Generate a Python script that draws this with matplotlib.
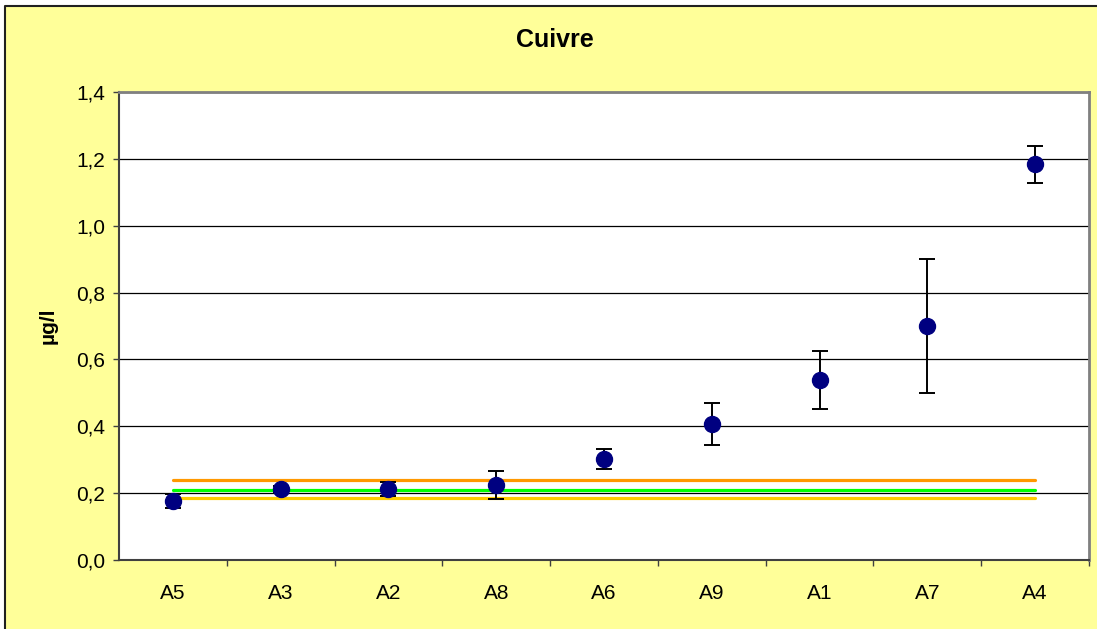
import matplotlib.pyplot as plt
from matplotlib.patches import Rectangle
from matplotlib.lines import Line2D
import numpy as np

plt.rcParams['font.family'] = ['Liberation Sans', 'DejaVu Sans']

sites = ['A5', 'A3', 'A2', 'A8', 'A6', 'A9', 'A1', 'A7', 'A4']
cuivre = [0.176, 0.212, 0.212, 0.224, 0.303, 0.408, 0.539, 0.700, 1.184]
erreur = [0.020, 0.010, 0.020, 0.043, 0.030, 0.063, 0.087, 0.200, 0.055]

# lignes de reference (orange haut, vert, jaune bas)
ref_haut = 0.239
ref_moy = 0.209
ref_bas = 0.185

fig = plt.figure(figsize=(10.97, 6.29), dpi=100)
fig.patch.set_facecolor('#FFFF99')
# marge blanche en haut et a gauche
fig.patches.append(Rectangle((0, (629 - 5) / 629), 1, 1, transform=fig.transFigure,
                             facecolor='white', edgecolor='none', zorder=-1))
fig.patches.append(Rectangle((0, 0), 4 / 1097, 1, transform=fig.transFigure,
                             facecolor='white', edgecolor='none', zorder=-1))
# cadre du graphique (seuls les bords haut et gauche sont visibles)
bx = 5 / 1097
by = 1 - 6 / 629
fig.add_artist(Line2D([bx, bx, 1.0], [0.0, by, by], transform=fig.transFigure,
                      color='#202020', linewidth=1.5))

ax = fig.add_axes([119 / 1097, (629 - 560) / 629, 970 / 1097, 468 / 629])
ax.set_facecolor('white')

x = np.arange(len(sites))
ax.plot([x[0], x[-1]], [ref_haut, ref_haut], color='#FF9900', lw=2.3,
        solid_capstyle='round', zorder=2)
ax.plot([x[0], x[-1]], [ref_moy, ref_moy], color='#00FF00', lw=2.3,
        solid_capstyle='round', zorder=2)
ax.plot([x[0], x[-1]], [ref_bas, ref_bas], color='#FFCC00', lw=2.3,
        solid_capstyle='round', zorder=2)

ax.errorbar(x, cuivre, yerr=erreur, fmt='o', color='#000080', markersize=11.5,
            ecolor='black', elinewidth=1.4, capsize=5.5, capthick=1.4, zorder=3)

ax.set_xlim(-0.5, len(sites) - 0.5)
ax.set_ylim(0, 1.4)
yt = np.arange(0, 1.41, 0.2)
ax.set_yticks(yt)
ax.set_yticklabels([f'{v:.1f}'.replace('.', ',') for v in yt], fontsize=15)
ax.set_xticks(x)
ax.set_xticklabels(sites, fontsize=15)
ax.set_xticks(np.arange(0.5, len(sites) - 0.5 + 0.01, 1), minor=True)
ax.tick_params(axis='x', which='major', length=0, pad=17)
ax.tick_params(axis='x', which='minor', length=4, width=1, color='#404040')
ax.tick_params(axis='y', length=4, width=1, color='#404040', pad=6)
ax.yaxis.grid(True, color='black', linewidth=0.9)
ax.set_axisbelow(True)

for s in ['left', 'bottom']:
    ax.spines[s].set_color('#404040')
    ax.spines[s].set_linewidth(1.5)
for s in ['top', 'right']:
    ax.spines[s].set_color('#808080')
    ax.spines[s].set_linewidth(2)

fig.text(555 / 1097, 1 - 40 / 629, 'Cuivre', ha='center', va='center',
         fontsize=18, fontweight='bold')
fig.text(48 / 1097, 1 - 326 / 629, 'µg/l', ha='center', va='center',
         rotation=90, fontsize=15, fontweight='bold')

fig.savefig('out.png', dpi=100, facecolor=fig.get_facecolor())
